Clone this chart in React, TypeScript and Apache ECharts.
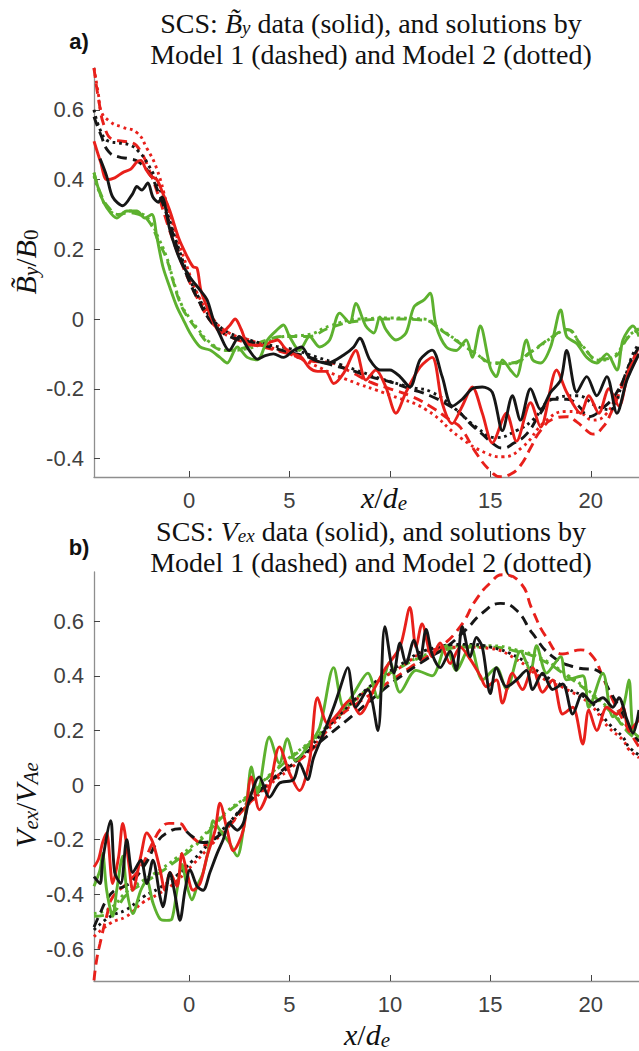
import React, { useEffect, useRef } from "react";
import * as echarts from "echarts";

const RED = "#e8201b";
const BLACK = "#161616";
const GREEN = "#5db12f";
const SERIF = "Liberation Serif";
const SANS = "Liberation Sans";

const xTicks = [0, 5, 10, 15, 20];
const topXLabels = [0, 5, 15, 20];
const botXLabels = [0, 5, 10, 15, 20];
const topYTicks = [-0.4, -0.2, 0, 0.2, 0.4, 0.6];
const botYTicks = [-0.6, -0.4, -0.2, 0, 0.2, 0.4, 0.6];

// ---------- Panel a): B_y / B0 ----------
const topRedSolid: number[][] = [
  [-4.73, 0.51], [-4.4, 0.45], [-4.1, 0.4], [-3.7, 0.405], [-3.3, 0.42], [-2.9, 0.43], [-2.6, 0.45], [-2.4, 0.455],
  [-2.15, 0.43], [-1.9, 0.41], [-1.6, 0.4], [-1.3, 0.36], [-0.95, 0.31], [-0.5, 0.23], [-0.1, 0.18], [0.2, 0.15],
  [0.4, 0.146], [0.6, 0.08], [1.0, 0.02], [1.3, -0.02], [1.6, -0.04], [2.0, -0.02], [2.3, 0.0], [2.6, -0.03],
  [2.9, -0.07], [3.3, -0.075], [3.7, -0.075], [4.1, -0.065], [4.4, -0.06], [4.8, -0.085], [5.2, -0.1], [5.6, -0.11],
  [6.0, -0.14], [6.4, -0.15], [6.8, -0.15], [7.2, -0.185], [7.7, -0.155], [8.3, -0.09], [8.8, -0.175], [9.3, -0.146],
  [9.8, -0.195], [10.3, -0.27], [10.8, -0.21], [11.5, -0.138], [12.1, -0.11], [12.6, -0.24], [13.1, -0.3], [13.6, -0.25],
  [14.1, -0.195], [14.6, -0.27], [15.1, -0.355], [15.8, -0.27], [16.3, -0.35], [17.0, -0.24], [17.5, -0.31], [18.3, -0.146],
  [18.8, -0.21], [19.5, -0.27], [19.9, -0.22], [20.4, -0.27], [20.9, -0.2], [21.4, -0.25], [21.9, -0.146], [22.4, -0.1],
];
const topBlackSolid: number[][] = [
  [-4.43, 0.46], [-4.1, 0.41], [-3.8, 0.35], [-3.3, 0.325], [-2.8, 0.36], [-2.6, 0.38], [-2.35, 0.37], [-2.05, 0.39],
  [-1.8, 0.35], [-1.53, 0.335], [-1.35, 0.35], [-0.95, 0.255], [-0.45, 0.17], [0.05, 0.12], [0.55, 0.083], [0.9, 0.055],
  [1.2, 0.0], [1.5, -0.04], [2.0, -0.09], [2.5, -0.05], [3.0, -0.09], [3.4, -0.115], [3.8, -0.105], [4.2, -0.1],
  [4.7, -0.11], [5.2, -0.09], [5.6, -0.08], [6.0, -0.11], [6.9, -0.126], [7.7, -0.103], [8.2, -0.08], [8.5, -0.055],
  [9.0, -0.117], [9.5, -0.146], [10.0, -0.146], [10.5, -0.165], [11.0, -0.195], [11.5, -0.117], [12.1, -0.089], [12.6, -0.165],
  [13.1, -0.25], [13.6, -0.23], [14.1, -0.2], [14.6, -0.195], [15.1, -0.21], [15.6, -0.32], [16.1, -0.22], [16.5, -0.29],
  [17.0, -0.2], [17.5, -0.26], [18.0, -0.21], [18.5, -0.175], [18.8, -0.09], [19.3, -0.21], [19.8, -0.165], [20.3, -0.22],
  [20.8, -0.165], [21.3, -0.27], [21.8, -0.175], [22.4, -0.1],
];
const topGreenSolid: number[][] = [
  [-4.73, 0.42], [-4.43, 0.36], [-4.1, 0.32], [-3.6, 0.29], [-3.1, 0.31], [-2.6, 0.31], [-2.2, 0.29], [-1.85, 0.3],
  [-1.6, 0.235], [-1.3, 0.15], [-0.95, 0.09], [-0.6, 0.035], [-0.3, 0.0], [0.05, -0.04], [0.55, -0.08], [1.04, -0.089],
  [1.54, -0.11], [1.9, -0.126], [2.4, -0.08], [2.9, -0.11], [3.4, -0.117], [3.9, -0.06], [4.4, -0.03], [4.7, -0.017],
  [5.0, -0.05], [5.5, -0.09], [6.0, -0.05], [6.5, -0.08], [7.0, -0.06], [7.5, 0.017], [8.0, -0.01], [8.3, 0.045],
  [8.8, -0.02], [9.2, -0.04], [9.5, 0.006], [9.8, -0.03], [10.3, -0.06], [10.8, -0.04], [11.2, 0.035], [11.7, 0.055],
  [12.0, 0.074], [12.3, -0.02], [12.8, -0.08], [13.3, -0.09], [13.8, -0.06], [14.1, -0.11], [14.5, -0.02], [15.0, -0.14],
  [15.3, -0.165], [15.6, -0.117], [16.0, -0.146], [16.3, -0.165], [16.8, -0.06], [17.1, -0.117], [17.5, -0.126], [18.0, -0.08],
  [18.5, 0.026], [18.8, -0.05], [19.3, -0.07], [19.8, -0.11], [20.3, -0.126], [20.8, -0.1], [21.3, -0.146], [21.6, -0.06],
  [22.1, -0.02], [22.4, -0.05],
];
const topRedDashed: number[][] = [
  [-4.73, 0.72], [-4.5, 0.63], [-4.2, 0.55], [-3.8, 0.515], [-3.3, 0.51], [-2.8, 0.505], [-2.4, 0.48], [-2.0, 0.43],
  [-1.5, 0.35], [-1.0, 0.26], [-0.5, 0.18], [0.0, 0.11], [0.5, 0.05], [1.0, 0.0], [1.5, -0.03], [2.0, -0.05],
  [3.0, -0.07], [4.0, -0.085], [5.0, -0.1], [6.0, -0.12], [7.0, -0.125], [8.0, -0.15], [9.0, -0.18], [10.0, -0.2],
  [11.0, -0.22], [12.0, -0.25], [13.0, -0.29], [13.5, -0.31], [14.3, -0.385], [15.0, -0.435], [15.5, -0.452], [16.0, -0.445],
  [16.5, -0.42], [17.0, -0.37], [17.5, -0.32], [18.2, -0.285], [18.8, -0.28], [19.3, -0.295], [19.8, -0.32], [20.1, -0.33],
  [20.6, -0.31], [21.0, -0.27], [21.5, -0.2], [22.0, -0.13], [22.4, -0.08],
];
const topBlackDashed: number[][] = [
  [-4.73, 0.58], [-4.4, 0.53], [-4.0, 0.48], [-3.5, 0.465], [-3.0, 0.46], [-2.5, 0.45], [-2.0, 0.42], [-1.5, 0.36],
  [-1.0, 0.28], [-0.5, 0.19], [0.0, 0.11], [0.5, 0.05], [1.0, 0.0], [1.5, -0.03], [2.0, -0.05], [3.0, -0.065],
  [4.0, -0.08], [5.0, -0.095], [6.0, -0.11], [7.0, -0.13], [8.0, -0.145], [9.0, -0.165], [10.0, -0.18], [11.0, -0.2],
  [12.0, -0.22], [13.0, -0.25], [13.5, -0.27], [14.0, -0.3], [14.6, -0.33], [15.2, -0.36], [15.6, -0.37], [16.2, -0.355],
  [16.8, -0.33], [17.5, -0.27], [18.1, -0.23], [18.8, -0.23], [19.4, -0.25], [19.9, -0.28], [20.5, -0.26], [21.3, -0.21],
  [22.0, -0.12], [22.4, -0.08],
];
const topBlackDotted: number[][] = [
  [-4.73, 0.6], [-4.4, 0.54], [-4.0, 0.51], [-3.5, 0.505], [-3.0, 0.5], [-2.5, 0.48], [-2.0, 0.44], [-1.5, 0.38],
  [-1.0, 0.29], [-0.5, 0.2], [0.0, 0.12], [0.5, 0.06], [1.0, 0.01], [1.5, -0.02], [2.0, -0.04], [3.0, -0.06],
  [4.0, -0.075], [5.0, -0.085], [6.4, -0.11], [7.5, -0.13], [8.3, -0.146], [9.5, -0.17], [11.0, -0.195], [12.1, -0.21],
  [13.3, -0.26], [14.3, -0.31], [15.3, -0.34], [16.3, -0.32], [17.1, -0.29], [18.1, -0.23], [19.3, -0.22], [20.3, -0.25],
  [20.9, -0.26], [21.6, -0.18], [22.1, -0.1], [22.4, -0.07],
];
const topRedDotted: number[][] = [
  [-4.73, 0.72], [-4.5, 0.64], [-4.4, 0.6], [-3.9, 0.565], [-3.3, 0.55], [-2.6, 0.535], [-2.1, 0.49], [-1.6, 0.43],
  [-1.1, 0.33], [-0.6, 0.235], [-0.1, 0.15], [0.4, 0.075], [1.2, 0.0], [2.0, -0.04], [3.0, -0.06], [4.0, -0.08],
  [5.0, -0.1], [6.0, -0.126], [7.7, -0.17], [10.1, -0.22], [11.8, -0.26], [13.5, -0.34], [14.8, -0.385], [15.6, -0.395],
  [16.6, -0.367], [17.8, -0.29], [18.8, -0.265], [19.5, -0.27], [20.1, -0.29], [20.8, -0.27], [21.4, -0.2], [22.1, -0.126],
  [22.4, -0.1],
];
const topGreenDashed: number[][] = [
  [-4.73, 0.42], [-4.4, 0.36], [-4.0, 0.32], [-3.5, 0.3], [-3.0, 0.305], [-2.5, 0.3], [-2.0, 0.28], [-1.5, 0.22],
  [-1.1, 0.17], [-0.8, 0.11], [-0.4, 0.04], [0.0, 0.0], [0.4, -0.03], [1.0, -0.07], [1.9, -0.09], [2.9, -0.08],
  [3.9, -0.06], [4.7, -0.05], [5.9, -0.05], [7.0, -0.025], [8.5, -0.005], [10.1, 0.0], [11.7, -0.003], [12.5, -0.03],
  [13.5, -0.07], [14.3, -0.1], [15.1, -0.125], [16.0, -0.126], [17.1, -0.09], [18.1, -0.05], [18.8, -0.03], [19.6, -0.08],
  [20.4, -0.115], [21.1, -0.11], [21.9, -0.05], [22.4, -0.03],
];
const topGreenDotted: number[][] = [
  [-4.73, 0.41], [-4.4, 0.355], [-4.0, 0.315], [-3.5, 0.3], [-3.0, 0.31], [-2.5, 0.305], [-2.0, 0.285], [-1.5, 0.23],
  [-1.1, 0.175], [-0.8, 0.115], [-0.4, 0.045], [0.0, 0.005], [0.4, -0.025], [1.0, -0.065], [1.9, -0.09], [2.9, -0.085],
  [3.9, -0.065], [4.7, -0.05], [5.9, -0.045], [7.0, -0.02], [8.5, 0.0], [10.1, 0.003], [11.7, 0.0], [12.5, -0.028],
  [13.5, -0.068], [14.3, -0.1], [15.1, -0.127], [16.0, -0.128], [17.1, -0.092], [18.1, -0.052], [18.8, -0.032], [19.6, -0.078],
  [20.4, -0.118], [21.1, -0.108], [21.9, -0.048], [22.4, -0.028],
];

// ---------- Panel b): V_ex / V_Ae ----------
const botRedSolid: number[][] = [
  [-4.73, -0.3], [-4.5, -0.27], [-4.3, -0.21], [-4.1, -0.175], [-3.8, -0.36], [-3.5, -0.26], [-3.3, -0.14], [-3.0, -0.285],
  [-2.8, -0.385], [-2.4, -0.26], [-2.1, -0.175], [-1.8, -0.21], [-1.44, -0.31], [-1.2, -0.385], [-0.95, -0.32], [-0.6, -0.37],
  [-0.35, -0.25], [-0.1, -0.32], [0.2, -0.385], [0.55, -0.36], [0.9, -0.26], [1.3, -0.165], [1.54, -0.066], [1.9, -0.165],
  [2.2, -0.24], [2.7, -0.165], [3.1, 0.03], [3.5, -0.09], [4.0, -0.01], [4.5, 0.14], [5.0, 0.045], [5.5, -0.02],
  [6.0, 0.09], [6.4, 0.32], [6.9, 0.225], [7.4, 0.26], [8.0, 0.31], [8.5, 0.26], [9.2, 0.35], [9.8, 0.43],
  [10.5, 0.505], [11.0, 0.65], [11.3, 0.505], [11.6, 0.59], [12.1, 0.47], [12.5, 0.52], [13.0, 0.445], [13.5, 0.505],
  [14.0, 0.46], [14.5, 0.4], [14.8, 0.36], [15.3, 0.385], [15.6, 0.3], [16.1, 0.41], [16.6, 0.35], [17.1, 0.43],
  [17.6, 0.34], [18.1, 0.385], [18.6, 0.26], [19.1, 0.285], [19.6, 0.15], [19.9, 0.275], [20.3, 0.2], [20.8, 0.285],
  [21.3, 0.26], [21.6, 0.285], [21.9, 0.2], [22.4, 0.24],
];
const botBlackSolid: number[][] = [
  [-4.73, -0.335], [-4.43, -0.36], [-4.3, -0.275], [-3.9, -0.13], [-3.7, -0.32], [-3.4, -0.36], [-3.1, -0.2], [-2.8, -0.32],
  [-2.4, -0.275], [-2.1, -0.36], [-1.8, -0.275], [-1.44, -0.41], [-1.3, -0.445], [-0.95, -0.32], [-0.7, -0.4], [-0.45, -0.495],
  [-0.2, -0.385], [0.05, -0.31], [0.4, -0.37], [0.7, -0.385], [1.04, -0.32], [1.4, -0.25], [1.7, -0.2], [2.0, -0.14],
  [2.4, -0.165], [2.7, -0.14], [3.0, -0.055], [3.5, 0.03], [4.0, -0.045], [4.5, 0.007], [5.2, 0.02], [5.5, 0.08],
  [5.9, 0.02], [6.2, 0.1], [6.7, 0.19], [7.2, 0.285], [7.5, 0.35], [7.9, 0.43], [8.3, 0.285], [8.9, 0.35],
  [9.4, 0.2], [9.75, 0.58], [10.2, 0.41], [10.5, 0.52], [10.8, 0.445], [11.2, 0.53], [11.5, 0.46], [11.8, 0.57],
  [12.1, 0.48], [12.5, 0.43], [13.0, 0.49], [13.3, 0.42], [13.6, 0.58], [14.0, 0.47], [14.3, 0.54], [14.6, 0.505],
  [15.0, 0.335], [15.3, 0.43], [15.8, 0.36], [16.3, 0.385], [16.8, 0.42], [17.1, 0.35], [17.6, 0.41], [18.1, 0.35],
  [18.6, 0.37], [19.1, 0.26], [19.6, 0.335], [20.1, 0.3], [20.6, 0.32], [21.1, 0.285], [21.4, 0.32], [21.8, 0.24],
  [22.1, 0.19], [22.4, 0.275],
];
const botGreenSolid: number[][] = [
  [-4.73, -0.37], [-4.43, -0.31], [-4.3, -0.25], [-4.1, -0.385], [-3.8, -0.48], [-3.6, -0.385], [-3.3, -0.26], [-3.1, -0.385],
  [-2.8, -0.47], [-2.4, -0.385], [-2.1, -0.35], [-1.8, -0.43], [-1.44, -0.49], [-1.1, -0.495], [-0.85, -0.49], [-0.6, -0.385],
  [-0.35, -0.29], [-0.1, -0.37], [0.15, -0.42], [0.4, -0.37], [0.7, -0.32], [1.04, -0.21], [1.2, -0.13], [1.54, -0.165],
  [2.0, -0.21], [2.4, -0.26], [2.7, -0.165], [2.9, -0.05], [3.1, 0.066], [3.4, -0.03], [4.0, 0.176], [4.5, 0.08],
  [4.9, 0.17], [5.3, 0.09], [5.9, 0.14], [6.5, 0.21], [7.2, 0.43], [7.7, 0.285], [8.2, 0.336], [8.9, 0.41],
  [9.4, 0.32], [10.0, 0.45], [10.5, 0.34], [11.3, 0.42], [12.1, 0.4], [12.8, 0.51], [13.3, 0.42], [14.0, 0.51],
  [14.6, 0.385], [15.3, 0.43], [15.8, 0.35], [16.5, 0.49], [17.0, 0.42], [17.3, 0.51], [17.8, 0.41], [18.5, 0.47],
  [18.8, 0.385], [19.6, 0.4], [19.9, 0.285], [20.6, 0.41], [21.1, 0.25], [21.6, 0.285], [21.9, 0.385], [22.1, 0.2],
  [22.4, 0.176],
];
const botRedDashed: number[][] = [
  [-4.73, -0.715], [-4.6, -0.64], [-4.43, -0.58], [-4.1, -0.48], [-3.8, -0.41], [-3.1, -0.36], [-2.4, -0.3], [-1.8, -0.21],
  [-1.4, -0.16], [-1.0, -0.14], [-0.5, -0.14], [-0.1, -0.17], [0.4, -0.205], [0.9, -0.22], [1.4, -0.19], [2.0, -0.15],
  [2.7, -0.09], [3.5, -0.03], [4.5, 0.04], [6.2, 0.135], [7.2, 0.235], [8.2, 0.29], [9.3, 0.345], [11.0, 0.43],
  [12.5, 0.505], [13.5, 0.58], [14.3, 0.68], [15.0, 0.74], [15.6, 0.77], [16.5, 0.74], [17.1, 0.64], [17.8, 0.54],
  [18.6, 0.48], [19.5, 0.495], [20.1, 0.47], [20.6, 0.395], [21.1, 0.31], [21.6, 0.24], [22.1, 0.175], [22.4, 0.14],
];
const botBlackDashed: number[][] = [
  [-4.73, -0.52], [-4.43, -0.47], [-4.1, -0.42], [-3.7, -0.385], [-3.2, -0.37], [-2.8, -0.35], [-2.1, -0.28], [-1.6, -0.21],
  [-1.1, -0.175], [-0.45, -0.16], [0.2, -0.19], [0.7, -0.21], [1.4, -0.19], [2.0, -0.14], [2.9, -0.066], [4.5, 0.045],
  [6.2, 0.14], [7.9, 0.24], [9.2, 0.32], [10.3, 0.385], [11.8, 0.46], [12.8, 0.505], [13.8, 0.57], [14.6, 0.63],
  [15.5, 0.665], [16.3, 0.64], [17.1, 0.555], [18.1, 0.47], [19.3, 0.43], [20.3, 0.42], [20.9, 0.35], [21.6, 0.26],
  [22.1, 0.19], [22.4, 0.16],
];
const botRedDotted: number[][] = [
  [-4.73, -0.555], [-3.9, -0.505], [-3.1, -0.48], [-2.3, -0.43], [-1.44, -0.395], [-0.6, -0.35], [0.2, -0.29], [1.04, -0.225],
  [1.9, -0.155], [2.7, -0.09], [4.0, 0.0], [5.5, 0.09], [7.2, 0.225], [8.9, 0.35], [10.5, 0.43], [12.1, 0.495],
  [13.8, 0.505], [15.0, 0.5], [16.3, 0.46], [17.5, 0.395], [18.8, 0.35], [19.9, 0.3], [20.9, 0.21], [21.6, 0.165],
  [21.9, 0.13], [22.4, 0.1],
];
const botBlackDotted: number[][] = [
  [-4.73, -0.53], [-3.9, -0.48], [-3.1, -0.455], [-2.3, -0.41], [-1.44, -0.375], [-0.6, -0.33], [0.2, -0.275], [1.04, -0.21],
  [1.9, -0.145], [2.7, -0.08], [4.0, 0.01], [5.5, 0.1], [7.2, 0.235], [8.9, 0.355], [10.5, 0.44], [12.1, 0.5],
  [13.8, 0.515], [15.0, 0.505], [16.3, 0.47], [17.5, 0.41], [18.8, 0.355], [19.9, 0.31], [20.9, 0.225], [21.6, 0.175],
  [21.9, 0.14], [22.4, 0.11],
];
const botGreenDashed: number[][] = [
  [-4.73, -0.48], [-3.9, -0.47], [-3.1, -0.4], [-2.3, -0.36], [-1.44, -0.32], [-0.6, -0.275], [0.2, -0.23], [1.04, -0.165],
  [1.9, -0.1], [2.9, -0.045], [4.5, 0.066], [6.2, 0.165], [7.2, 0.235], [8.9, 0.35], [10.5, 0.43], [12.1, 0.48],
  [13.8, 0.505], [15.0, 0.505], [16.3, 0.49], [17.5, 0.46], [18.8, 0.4], [19.9, 0.34], [21.1, 0.26], [21.9, 0.19],
  [22.4, 0.165],
];
const botGreenDotted: number[][] = [
  [-4.73, -0.47], [-3.9, -0.45], [-3.1, -0.39], [-2.3, -0.35], [-1.44, -0.31], [-0.6, -0.265], [0.2, -0.22], [1.04, -0.16],
  [1.9, -0.095], [2.9, -0.04], [4.5, 0.07], [6.2, 0.17], [7.2, 0.24], [8.9, 0.352], [10.5, 0.432], [12.1, 0.485],
  [13.8, 0.51], [15.0, 0.51], [16.3, 0.495], [17.5, 0.465], [18.8, 0.405], [19.9, 0.345], [21.1, 0.265], [21.9, 0.195],
  [22.4, 0.17],
];

const DASH = [10, 6];
const DOT = [2.8, 3.8];

function mk(data: number[][], color: string, kind: "solid" | "dashed" | "dotted", g: number, z: number) {
  return {
    type: "line",
    xAxisIndex: g,
    yAxisIndex: g,
    data,
    showSymbol: false,
    symbol: "none",
    smooth: kind === "solid" ? 0.3 : 0.5,
    z,
    clip: true,
    lineStyle: {
      color,
      width: 2.9,
      type: kind === "solid" ? "solid" : kind === "dashed" ? DASH : DOT,
      cap: "butt",
    },
  };
}

function xAxis(g: number, labels: number[]) {
  return {
    type: "value",
    gridIndex: g,
    min: -4.73,
    max: 22.4,
    splitLine: { show: false },
    axisLine: { show: true, onZero: false, lineStyle: { color: "#8e8e8e", width: 1.3 } },
    axisTick: { show: true, inside: true, length: 6, customValues: xTicks, lineStyle: { color: "#444", width: 1 } },
    axisLabel: {
      customValues: labels,
      color: "#404040",
      fontSize: 22,
      fontFamily: SANS,
      margin: 12,
      formatter: (v: number) => String(v),
    },
  };
}

function yAxis(g: number, min: number, max: number, ticks: number[]) {
  return {
    type: "value",
    gridIndex: g,
    min,
    max,
    splitLine: { show: false },
    axisLine: { show: true, onZero: false, lineStyle: { color: "#8e8e8e", width: 1.3 } },
    axisTick: { show: true, inside: true, length: 6, customValues: ticks, lineStyle: { color: "#444", width: 1 } },
    axisLabel: {
      customValues: ticks,
      color: "#404040",
      fontSize: 22,
      fontFamily: SANS,
      margin: 10,
      formatter: (v: number) => String(Math.round(v * 10) / 10),
    },
  };
}

function rich(size: number, sub: number, lh: number) {
  return {
    r: { fontFamily: SERIF, fontSize: size, fill: "#111", lineHeight: lh },
    i: { fontFamily: SERIF, fontSize: size, fontStyle: "italic", fill: "#111", lineHeight: lh },
    s: { fontFamily: SERIF, fontSize: sub, fontStyle: "italic", fill: "#111", lineHeight: sub - 4, verticalAlign: "bottom" },
    sr: { fontFamily: SERIF, fontSize: sub, fill: "#111", lineHeight: sub - 4, verticalAlign: "bottom" },
  };
}
const titleRich = rich(28, 19, 28);
const labelRich = rich(30, 21, 32);

function txt(x: number, y: number, text: string, r: any, rotation = 0) {
  return {
    type: "text",
    x,
    y,
    rotation,
    silent: true,
    style: { text, align: "center", verticalAlign: "middle", rich: r },
  };
}

export default function App() {
  const ref = useRef<HTMLDivElement>(null);
  useEffect(() => {
    const chart = echarts.init(ref.current!, null, { renderer: "svg" });
    const option: any = {
      animation: false,
      backgroundColor: "#ffffff",
      grid: [
        { left: 94, top: 68, width: 545, height: 409 },
        { left: 94, top: 572, width: 545, height: 409 },
      ],
      xAxis: [xAxis(0, topXLabels), xAxis(1, botXLabels)],
      yAxis: [yAxis(0, -0.453, 0.72, topYTicks), yAxis(1, -0.717, 0.78, botYTicks)],
      series: [
        mk(topGreenDashed, GREEN, "dashed", 0, 2),
        mk(topGreenDotted, GREEN, "dotted", 0, 2),
        mk(topRedDashed, RED, "dashed", 0, 3),
        mk(topRedDotted, RED, "dotted", 0, 3),
        mk(topBlackDashed, BLACK, "dashed", 0, 3),
        mk(topBlackDotted, BLACK, "dotted", 0, 3),
        mk(topRedSolid, RED, "solid", 0, 4),
        mk(topGreenSolid, GREEN, "solid", 0, 4),
        mk(topBlackSolid, BLACK, "solid", 0, 5),
        mk(botGreenDashed, GREEN, "dashed", 1, 2),
        mk(botGreenDotted, GREEN, "dotted", 1, 2),
        mk(botRedDashed, RED, "dashed", 1, 3),
        mk(botRedDotted, RED, "dotted", 1, 3),
        mk(botBlackDashed, BLACK, "dashed", 1, 3),
        mk(botBlackDotted, BLACK, "dotted", 1, 3),
        mk(botGreenSolid, GREEN, "solid", 1, 4),
        mk(botRedSolid, RED, "solid", 1, 4),
        mk(botBlackSolid, BLACK, "solid", 1, 5),
      ],
      graphic: [
        {
          type: "text", x: 79, y: 41, silent: true,
          style: { text: "a)", fontFamily: SANS, fontSize: 22, fontWeight: "bold", fill: "#111", align: "center", verticalAlign: "middle" },
        },
        {
          type: "text", x: 79, y: 547, silent: true,
          style: { text: "b)", fontFamily: SANS, fontSize: 22, fontWeight: "bold", fill: "#111", align: "center", verticalAlign: "middle" },
        },
        txt(371, 23, "{r|SCS: }{i|B\u0303}{s|y}{r| data (solid), and solutions by}", titleRich),
        txt(371, 54, "{r|Model 1 (dashed) and Model 2 (dotted)}", titleRich),
        txt(371, 531, "{r|SCS: }{i|V}{s|ex}{r| data (solid), and solutions by}", titleRich),
        txt(371, 562, "{r|Model 1 (dashed) and Model 2 (dotted)}", titleRich),
        txt(25, 262, "{i|B\u0303}{s|y}{r|/}{i|B}{sr|0}", labelRich, Math.PI / 2),
        txt(25, 805, "{i|V}{s|ex}{r|/}{i|V}{s|Ae}", labelRich, Math.PI / 2),
        txt(384, 497, "{i|x}{r|/}{i|d}{s|e}", labelRich),
        txt(367, 1034, "{i|x}{r|/}{i|d}{s|e}", labelRich),
      ],
    };
    chart.setOption(option);
    return () => chart.dispose();
  }, []);
  return (
    <div
      ref={ref}
      style={{ position: "absolute", left: 0, top: 0, width: 639, height: 1051, background: "#fff" }}
    />
  );
}
